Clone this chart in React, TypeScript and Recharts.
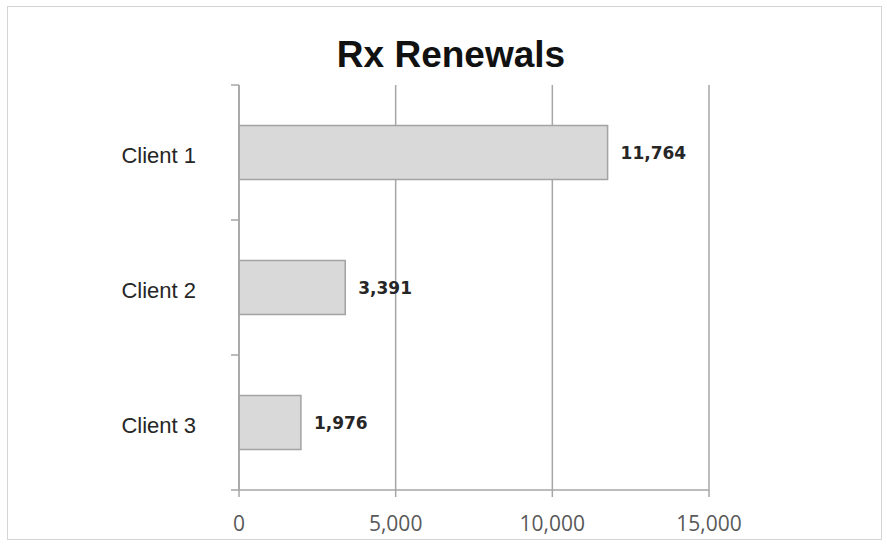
import React from "react";
import { BarChart, Bar, XAxis, YAxis, CartesianGrid, LabelList } from "recharts";

const clients = ["Client 1", "Client 2", "Client 3"];
const renewals = [11764, 3391, 1976];
const xTicks = [0, 5000, 10000, 15000];
const title = "Rx Renewals";

const data = clients.map((name, i) => ({ name, value: renewals[i] }));

const W = 887;
const H = 547;
const MARGIN = { top: 85, right: 178, left: 0, bottom: 0 };
const YAXIS_W = 239;
const XAXIS_H = 57;
const PLOT_H = H - MARGIN.top - MARGIN.bottom - XAXIS_H;
const BAND = PLOT_H / clients.length;
const AXIS_COLOR = "#a6a6a6";
const fmt = (v: number) => v.toLocaleString("en-US");

const YTick = (props: any) => {
  const { x, y, payload, index } = props;
  const axisX = MARGIN.left + YAXIS_W;
  const isLast = index === clients.length - 1;
  return (
    <g>
      <line x1={axisX - 8} x2={axisX} y1={y - BAND / 2} y2={y - BAND / 2} stroke={AXIS_COLOR} strokeWidth={1.5} />
      {isLast && (
        <line x1={axisX - 8} x2={axisX} y1={y + BAND / 2} y2={y + BAND / 2} stroke={AXIS_COLOR} strokeWidth={1.5} />
      )}
      <text
        x={axisX - 43}
        y={y + 3}
        textAnchor="end"
        dominantBaseline="central"
        fontFamily="'Liberation Sans', Arial, sans-serif"
        fontSize={22}
        fill="#262626"
      >
        {payload.value}
      </text>
    </g>
  );
};

export default function App() {
  return (
    <div style={{ position: "absolute", left: 0, top: 0, width: W, height: H, background: "#fff" }}>
      <div
        style={{
          position: "absolute",
          left: 7,
          top: 6,
          width: 873,
          height: 532,
          border: "1px solid #d4d4d4",
        }}
      />
      <div
        style={{
          position: "absolute",
          left: 451,
          top: 36,
          transform: "translateX(-50%)",
          whiteSpace: "nowrap",
          fontFamily: "'Liberation Sans', Arial, sans-serif",
          fontWeight: "bold",
          fontSize: 37,
          lineHeight: "37px",
          color: "#111",
        }}
      >
        {title}
      </div>
      <div style={{ position: "absolute", left: 0, top: 0 }}>
        <BarChart width={W} height={H} data={data} layout="vertical" margin={MARGIN} barCategoryGap="30%">
          <CartesianGrid horizontal={false} vertical={true} stroke={AXIS_COLOR} strokeWidth={1.5} />
          <XAxis
            type="number"
            domain={[0, 15000]}
            ticks={xTicks}
            tickFormatter={fmt}
            height={XAXIS_H}
            axisLine={{ stroke: AXIS_COLOR, strokeWidth: 1.5 }}
            tickLine={{ stroke: AXIS_COLOR, strokeWidth: 1.5 }}
            tickSize={7}
            tickMargin={19}
            tick={{ fill: "#595959", fontSize: 21, fontFamily: "'Open Sans', sans-serif" }}
            interval={0}
          />
          <YAxis
            type="category"
            dataKey="name"
            width={YAXIS_W}
            axisLine={{ stroke: AXIS_COLOR, strokeWidth: 1.5 }}
            tickLine={false}
            tick={<YTick />}
            interval={0}
          />
          <Bar dataKey="value" fill="#d9d9d9" stroke="#a3a3a3" strokeWidth={1.5} isAnimationActive={false}>
            <LabelList
              dataKey="value"
              position="right"
              offset={13}
              formatter={(v: any) => fmt(Number(v))}
              style={{ fontFamily: "'DejaVu Sans', sans-serif", fontWeight: "bold", fontSize: 17, fill: "#262626" }}
            />
          </Bar>
        </BarChart>
      </div>
    </div>
  );
}
